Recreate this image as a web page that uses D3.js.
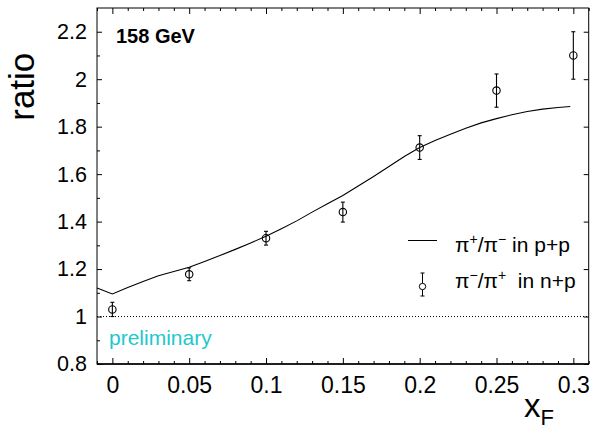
<!DOCTYPE html>
<html>
<head>
<meta charset="utf-8">
<script src="https://cdn.jsdelivr.net/npm/d3@7"></script>
<style>
  body { margin: 0; background: #fff; }
  svg { display: block; font-family: "Liberation Sans", Arial, sans-serif; }
</style>
</head>
<body>
<div id="chart"></div>
<script>
// measured pi-/pi+ in n+p
var xPoints = [0, 0.05, 0.1, 0.15, 0.2, 0.25, 0.3];
var ratioNP = [1.03, 1.178, 1.33, 1.44, 1.712, 1.952, 2.10];
var errNP = [0.03, 0.027, 0.029, 0.042, 0.05, 0.07, 0.10];

// pi+/pi- in p+p curve
var xCurve = [-0.01, 0, 0.01, 0.02, 0.03, 0.04, 0.05, 0.06, 0.07, 0.08, 0.09, 0.1,
	0.11, 0.12, 0.13, 0.14, 0.15, 0.16, 0.17, 0.18, 0.19, 0.2, 0.21, 0.22, 0.23,
	0.24, 0.25, 0.26, 0.27, 0.28, 0.29, 0.298];
var ratioPP = [1.12, 1.095, 1.122, 1.148, 1.172, 1.19, 1.208, 1.232, 1.257, 1.283, 1.31, 1.338,
	1.37, 1.403, 1.44, 1.475, 1.51, 1.55, 1.59, 1.632, 1.674, 1.712, 1.742, 1.768, 1.793,
	1.816, 1.834, 1.85, 1.864, 1.874, 1.881, 1.885];

var xTicks = [0, 0.05, 0.1, 0.15, 0.2, 0.25, 0.3];
var yTicks = [0.8, 1, 1.2, 1.4, 1.6, 1.8, 2, 2.2];

var width = 596, height = 430;
var frame = {l: 97, r: 588.7, t: 8, b: 364};

var svg = d3.select("#chart").append("svg")
	.attr("width", width)
	.attr("height", height);

var x = d3.scaleLinear().domain([-0.01, 0.31]).range([frame.l, frame.r]);
var y = d3.scaleLinear().domain([0.8, 2.3]).range([frame.b, frame.t]);

var fmt = function(d) { return String(+d.toFixed(2)); };
var xMinor = d3.range(-0.01, 0.3101, 0.01).map(function(d) { return +d.toFixed(2); })
	.filter(function(d) { return xTicks.indexOf(d) < 0; });
var yMinor = d3.range(0.9, 2.3, 0.2).map(function(d) { return +d.toFixed(1); });

// dotted reference line at 1
svg.append("line")
	.attr("x1", frame.l).attr("x2", frame.r)
	.attr("y1", y(1)).attr("y2", y(1))
	.attr("stroke", "#000").attr("stroke-width", 1)
	.attr("stroke-dasharray", "1,2");

// frame
svg.append("rect")
	.attr("x", frame.l).attr("y", frame.t)
	.attr("width", frame.r - frame.l).attr("height", frame.b - frame.t)
	.attr("fill", "none").attr("stroke", "#000").attr("stroke-width", 1);
svg.append("line")
	.attr("x1", frame.l).attr("x2", frame.r)
	.attr("y1", frame.b).attr("y2", frame.b)
	.attr("stroke", "#000").attr("stroke-width", 1.6);

function styleAxis(g) {
	g.select(".domain").remove();
	g.selectAll("line").attr("stroke", "#000");
	g.selectAll("text").attr("fill", "#000");
}

// bottom axis
svg.append("g")
	.attr("transform", "translate(0," + frame.b + ")")
	.call(d3.axisBottom(x).tickValues(xTicks).tickFormat(fmt).tickSize(-6).tickPadding(13))
	.call(styleAxis)
	.selectAll("text").style("font-size", "23px").style("font-family", null);
svg.append("g")
	.attr("transform", "translate(0," + frame.b + ")")
	.call(d3.axisBottom(x).tickValues(xMinor).tickFormat("").tickSize(-3))
	.call(styleAxis);

// top axis (ticks only)
svg.append("g")
	.attr("transform", "translate(0," + frame.t + ")")
	.call(d3.axisTop(x).tickValues(xTicks).tickFormat("").tickSize(-6))
	.call(styleAxis);
svg.append("g")
	.attr("transform", "translate(0," + frame.t + ")")
	.call(d3.axisTop(x).tickValues(xMinor).tickFormat("").tickSize(-3))
	.call(styleAxis);

// left axis
svg.append("g")
	.attr("transform", "translate(" + frame.l + ",0)")
	.call(d3.axisLeft(y).tickValues(yTicks).tickFormat(fmt).tickSize(-5).tickPadding(10))
	.call(styleAxis)
	.selectAll("text").style("font-size", "21.5px").style("font-family", null);
svg.append("g")
	.attr("transform", "translate(" + frame.l + ",0)")
	.call(d3.axisLeft(y).tickValues(yMinor).tickFormat("").tickSize(-3))
	.call(styleAxis);

// right axis (ticks only)
svg.append("g")
	.attr("transform", "translate(" + frame.r + ",0)")
	.call(d3.axisRight(y).tickValues(yTicks).tickFormat("").tickSize(-5))
	.call(styleAxis);

// axis titles
svg.append("text")
	.attr("transform", "translate(33.5,86.7) rotate(-90)")
	.attr("text-anchor", "middle")
	.style("font-size", "35px")
	.text("ratio");

var xf = svg.append("text")
	.attr("x", 524).attr("y", 417)
	.style("font-size", "33px");
xf.append("tspan").text("x");
xf.append("tspan").attr("dy", 7.5).style("font-size", "22px").text("F");

// p+p curve
var line = d3.line()
	.x(function(d, i) { return x(xCurve[i]); })
	.y(function(d) { return y(d); });
svg.append("path")
	.datum(ratioPP)
	.attr("d", line)
	.attr("fill", "none")
	.attr("stroke", "#000")
	.attr("stroke-width", 1.1);

// n+p points with error bars
var pts = svg.append("g").selectAll("g")
	.data(ratioNP)
	.enter()
	.append("g")
	.attr("transform", function(d, i) { return "translate(" + x(xPoints[i]) + ",0)"; });
pts.append("line")
	.attr("x1", 0).attr("x2", 0)
	.attr("y1", function(d, i) { return y(d + errNP[i]); })
	.attr("y2", function(d, i) { return y(d - errNP[i]); })
	.attr("stroke", "#000").attr("stroke-width", 1.1);
pts.append("line")
	.attr("x1", -2).attr("x2", 2)
	.attr("y1", function(d, i) { return y(d + errNP[i]); })
	.attr("y2", function(d, i) { return y(d + errNP[i]); })
	.attr("stroke", "#000").attr("stroke-width", 1.1);
pts.append("line")
	.attr("x1", -2).attr("x2", 2)
	.attr("y1", function(d, i) { return y(d - errNP[i]); })
	.attr("y2", function(d, i) { return y(d - errNP[i]); })
	.attr("stroke", "#000").attr("stroke-width", 1.1);
pts.append("circle")
	.attr("cx", 0)
	.attr("cy", function(d) { return y(d); })
	.attr("r", 3.7)
	.attr("fill", "none")
	.attr("stroke", "#000").attr("stroke-width", 1.1);

// labels
svg.append("text")
	.attr("x", 116).attr("y", 43.3)
	.style("font-size", "20px").style("font-weight", "bold")
	.text("158 GeV");

svg.append("text")
	.attr("x", 109).attr("y", 345)
	.style("font-size", "21px")
	.attr("fill", "#1ec8cc")
	.text("preliminary");

// legend
var legend = svg.append("g");
legend.append("line")
	.attr("x1", 408).attr("x2", 437)
	.attr("y1", 240.5).attr("y2", 240.5)
	.attr("stroke", "#000").attr("stroke-width", 1);
legend.append("line")
	.attr("x1", 422.5).attr("x2", 422.5)
	.attr("y1", 273).attr("y2", 296)
	.attr("stroke", "#000").attr("stroke-width", 1);
legend.append("line")
	.attr("x1", 420.5).attr("x2", 424.5)
	.attr("y1", 273).attr("y2", 273)
	.attr("stroke", "#000").attr("stroke-width", 1);
legend.append("line")
	.attr("x1", 420.5).attr("x2", 424.5)
	.attr("y1", 296).attr("y2", 296)
	.attr("stroke", "#000").attr("stroke-width", 1);
legend.append("circle")
	.attr("cx", 422.5).attr("cy", 286.5).attr("r", 3.2)
	.attr("fill", "#fff").attr("stroke", "#000").attr("stroke-width", 1);

function legendText(yb, a, b, rest) {
	var t = legend.append("text")
		.attr("x", 455).attr("y", yb)
		.style("font-size", "21px");
	t.append("tspan").text("\u03c0");
	t.append("tspan").attr("dy", -8).style("font-size", "14px").text(a);
	t.append("tspan").attr("dy", 8).text("/\u03c0");
	t.append("tspan").attr("dy", -8).style("font-size", "14px").text(b);
	t.append("tspan").attr("dy", 8).text(rest);
}
legendText(251.5, "+", "\u2212", " in p+p");
legendText(288.3, "\u2212", "+", "\u00a0 in n+p");
</script>
</body>
</html>
